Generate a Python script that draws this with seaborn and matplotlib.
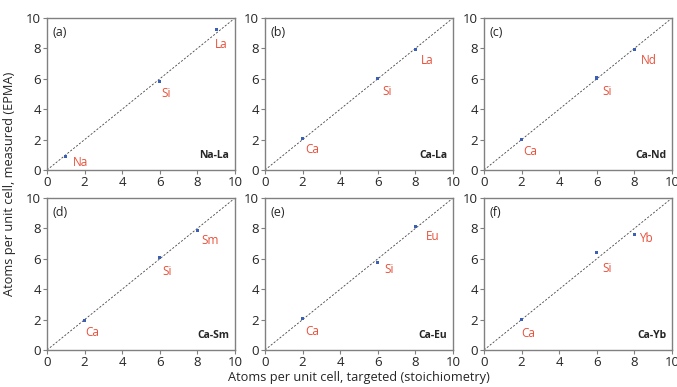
import numpy as np
import pandas as pd
import seaborn as sns
import matplotlib.pyplot as plt

# data: targeted vs measured atoms per unit cell
panels = ['(a)', '(b)', '(c)', '(d)', '(e)', '(f)']
systems = ['Na-La', 'Ca-La', 'Ca-Nd', 'Ca-Sm', 'Ca-Eu', 'Ca-Yb']
elements = [['Na', 'Si', 'La'], ['Ca', 'Si', 'La'], ['Ca', 'Si', 'Nd'],
            ['Ca', 'Si', 'Sm'], ['Ca', 'Si', 'Eu'], ['Ca', 'Si', 'Yb']]
targeted = [[1, 6, 9], [2, 6, 8], [2, 6, 8], [2, 6, 8], [2, 6, 8], [2, 6, 8]]
measured = [[0.9, 5.85, 9.25], [2.1, 6.0, 7.95], [2.0, 6.05, 7.9],
            [1.95, 6.1, 7.85], [2.1, 5.75, 8.15], [2.0, 6.4, 7.6]]
ticks = [0, 2, 4, 6, 8, 10]

# where each element label sits relative to its point (pixels)
label_offsets = [[(7, 0), (2, -6), (-1, -9)],
                 [(3, -5), (5, -6), (5, -5)],
                 [(2, -5), (6, -7), (6, -4)],
                 [(1, -6), (3, -8), (4, -3)],
                 [(3, -7), (7, 0), (10, -4)],
                 [(0, -7), (6, -9), (5, 2)]]

sns.set_style('white')
plt.rcParams['font.family'] = ['Open Sans', 'DejaVu Sans']

red = '#e8503a'
blue = '#3b5fb5'
spine = '#808080'

fig = plt.figure(figsize=(6.77, 3.87), dpi=100)
lefts = [47, 265, 484]
tops = [18, 198]
w, h = 188, 152

for i in range(6):
    r, c = divmod(i, 3)
    ax = fig.add_axes([lefts[c] / 677, 1 - (tops[r] + h) / 387, w / 677, h / 387])
    df = pd.DataFrame({'x': targeted[i], 'y': measured[i], 'el': elements[i]})
    ax.plot([0, 10], [0, 10], ls=(0, (2.5, 2)), color='#444444', lw=0.6)
    sns.scatterplot(data=df, x='x', y='y', ax=ax, marker='s', s=5,
                    color=blue, edgecolor='none', zorder=3)
    for j, row in df.iterrows():
        ax.annotate(row['el'], (row['x'], row['y']), xytext=label_offsets[i][j],
                    textcoords='offset pixels', ha='left', va='top',
                    color=red, fontsize=8.5)
    ax.text(0.03, 0.95, panels[i], transform=ax.transAxes, ha='left', va='top',
            fontsize=9)
    ax.text(0.97, 0.06, systems[i], transform=ax.transAxes, ha='right',
            va='bottom', fontsize=7.5, fontweight='bold')
    ax.set_xlim(0, 10)
    ax.set_ylim(0, 10)
    ax.set_xticks(ticks)
    ax.set_yticks(ticks)
    ax.set_xlabel('')
    ax.set_ylabel('')
    ax.tick_params(axis='both', direction='out', length=3, width=0.8,
                   color=spine, labelsize=9.5, pad=1.5, bottom=True, left=True)
    for s in ax.spines.values():
        s.set_color(spine)
        s.set_linewidth(1.0)

fig.text(359 / 677, 1 - 378 / 387, 'Atoms per unit cell, targeted (stoichiometry)',
         ha='center', va='center', fontsize=9.2)
fig.text(10 / 677, 1 - 184 / 387, 'Atoms per unit cell, measured (EPMA)',
         ha='center', va='center', rotation=90, fontsize=9.2)

plt.savefig('out.png', dpi=100)
